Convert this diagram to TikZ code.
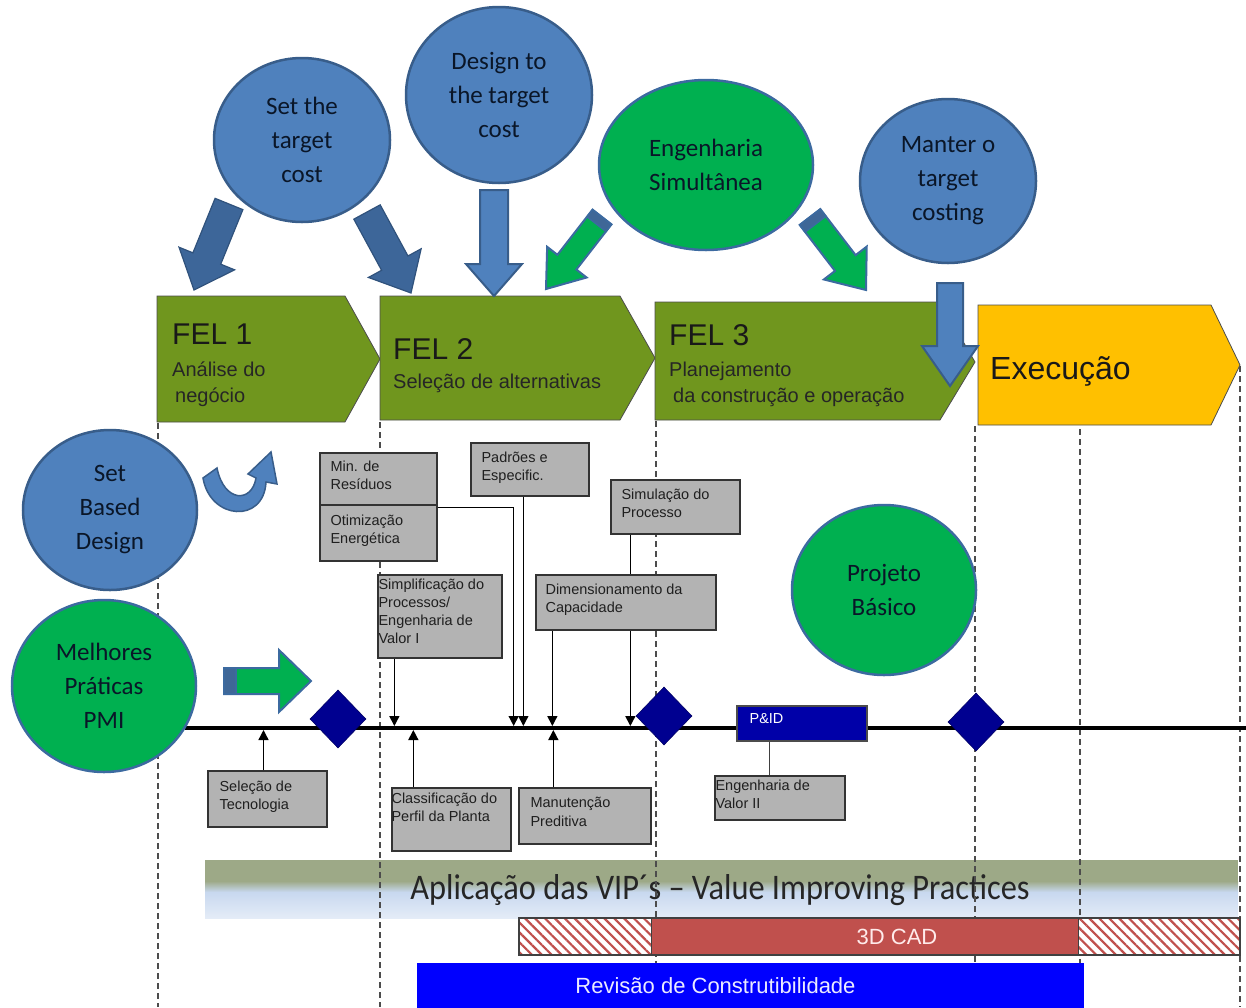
\documentclass[tikz,border=0pt]{standalone}
\usepackage{fontspec}
\usepackage{graphicx}
\setmainfont{Liberation Sans}
\newfontfamily\calfont{Carlito}
\usetikzlibrary{arrows.meta,calc,patterns.meta,shapes.geometric}

\definecolor{cblue}{HTML}{4F81BD}
\definecolor{cblueedge}{HTML}{385D8A}
\definecolor{cgreen}{HTML}{00B050}
\definecolor{gedge}{HTML}{3C6AA0}
\definecolor{darkarrow}{HTML}{3D6699}
\definecolor{darkarrowedge}{HTML}{30527C}
\definecolor{felgreen}{HTML}{70961E}
\definecolor{exyellow}{HTML}{FFC000}
\definecolor{gbfill}{HTML}{B3B3B3}
\definecolor{navyd}{HTML}{000090}
\definecolor{pidblue}{HTML}{0000A8}
\definecolor{cadred}{HTML}{C0504D}
\definecolor{revblue}{HTML}{0000FF}
\definecolor{vipolive}{HTML}{9DA987}
\definecolor{viplight}{HTML}{C8D8EF}
\definecolor{vippale}{HTML}{E4ECF7}
\definecolor{circtext}{HTML}{0A1628}

% block arrow: style, start, end, body half width, head half width, head length
\newcommand\blockarr[6]{%
  \coordinate (ba-h) at ($(#3)!#6!(#2)$);
  \path[#1] ($(#2)!#4!90:(#3)$) -- ($(ba-h)!#4!90:(#3)$) -- ($(ba-h)!#5!90:(#3)$)
    -- (#3) -- ($(ba-h)!#5!-90:(#3)$) -- ($(ba-h)!#4!-90:(#3)$)
    -- ($(#2)!#4!-90:(#3)$) -- cycle;}
% shaded tail band of a block arrow: start, end, half width, length
\newcommand\arrcap[4]{%
  \coordinate (cap-e) at ($(#1)!#4!(#2)$);
  \path[fill=cblue!80!black, draw=gedge, line width=1.5pt]
    ($(#1)!#3!90:(#2)$) -- ($(cap-e)!#3!90:(#2)$)
    -- ($(cap-e)!#3!-90:(#2)$) -- ($(#1)!#3!-90:(#2)$) -- cycle;}

\begin{document}
\begin{tikzpicture}[x=1pt,y=-1pt,
  circ/.style={ellipse, draw=cblueedge, line width=2.5pt, text=circtext,
    font=\calfont\fontsize{25}{34}\selectfont, align=center, inner sep=0pt},
  bluec/.style={circ, fill=cblue},
  greenc/.style={circ, fill=cgreen, draw=gedge},
  chev/.style={draw=black!70, line width=0.8pt},
  feltitle/.style={anchor=base west, inner sep=0pt, font=\fontsize{30}{34}\selectfont, text=black!90},
  felsub/.style={anchor=base west, inner sep=0pt, font=\fontsize{20}{26}\selectfont, text=black!85},
  gbox/.style={draw=black!80, line width=1.3pt, fill=gbfill, inner sep=0pt},
  gtext/.style={anchor=north west, inner sep=0pt, align=left,
    font=\fontsize{14.5}{18.3}\selectfont, text=black!88},
  dline/.style={draw=black!70, line width=1.3pt, dash pattern=on 6pt off 4pt},
  conn/.style={draw=black, line width=1.4pt, -{Triangle[length=10pt,width=10pt]}, shorten >=2pt},
  plain/.style={draw=black!75, line width=1.3pt},
  diam/.style={diamond, fill=navyd, draw=navyd!70!black, line width=0.6pt,
    minimum width=56pt, minimum height=58pt, inner sep=0pt},
  bluearrow/.style={fill=cblue, draw=cblueedge, line width=2pt},
  darkarrowst/.style={fill=darkarrow, draw=darkarrowedge, line width=1.2pt},
  greenarrow/.style={fill=cgreen, draw=gedge, line width=2pt}
]
\useasboundingbox (0,0) rectangle (1246,1007);

% ---------- VIP band ----------
\fill[vipolive] (205,860) rectangle (1238,881);
\shade[top color=vipolive, bottom color=viplight] (205,881) rectangle (1238,892);
\shade[top color=viplight, bottom color=vippale] (205,892) rectangle (1238,918);
\node[inner sep=0pt, text=black!85, font=\calfont\fontsize{36}{40}\selectfont] (vip) at (720,890)
  {\scalebox{0.9}[1]{Aplicação das VIP´s – Value Improving Practices}};

% ---------- phase boundaries ----------
\coordinate (v1t) at (158,423);  \coordinate (v1b) at (158,1007);
\coordinate (v2t) at (380,422);  \coordinate (v2b) at (380,1007);
\coordinate (v3t) at (656,421);  \coordinate (v3b) at (656,1007);
\coordinate (v4t) at (975,426);  \coordinate (v4b) at (975,1007);
\coordinate (v5t) at (1080,429); \coordinate (v5b) at (1080,1007);
\coordinate (v6t) at (1240,366); \coordinate (v6b) at (1240,1007);
\foreach \i in {1,...,6} { \draw[dline] (v\i t) -- (v\i b); }

% ---------- timeline ----------
\coordinate (tlL) at (185,728);
\coordinate (tlR) at (1246,728);
\coordinate (tl) at (0,728);
\draw[line width=4pt, black] (tlL) -- (tlR);

% ---------- practice boxes ----------
\node[gbox, minimum width=117pt, minimum height=52pt] (minres) at (378.5,479) {};
\node[gbox, minimum width=117pt, minimum height=56pt] (otim) at (378.5,533) {};
\node[gbox, minimum width=118pt, minimum height=53pt] (padr) at (530,469.5) {};
\node[gbox, minimum width=129pt, minimum height=54pt] (simu) at (675.5,507) {};
\node[gbox, minimum width=124pt, minimum height=83pt] (simp) at (440,616.5) {};
\node[gbox, minimum width=180pt, minimum height=55pt] (dime) at (626,602.5) {};
\node[gbox, minimum width=119pt, minimum height=56pt] (sele) at (267.5,799) {};
\node[gbox, minimum width=119pt, minimum height=63pt] (clas) at (451.5,819.5) {};
\node[gbox, minimum width=132pt, minimum height=56pt] (manu) at (585,816) {};
\node[gbox, minimum width=130pt, minimum height=44pt] (engv) at (780,798) {};

% ---------- connectors to the timeline ----------
\draw[conn] ($(simu.south west)+(20,0)$) coordinate (k8) -- (k8 |- tl);
\draw[conn] ($(sele.north)+(-4,0)$) coordinate (k1) -- (k1 |- tl);
\draw[conn] ($(simp.south west)+(17,0)$) coordinate (k2) -- (k2 |- tl);
\draw[conn] ($(clas.north west)+(22,0)$) coordinate (k3) -- (k3 |- tl);
\draw[conn] ($(minres.south east)+(0,2)$) -- ++(76,0) coordinate (k4) -- (k4 |- tl);
\draw[conn] ($(padr.south west)+(53,0)$) coordinate (k5) -- (k5 |- tl);
\draw[conn] ($(dime.south west)+(17,0)$) coordinate (k6) -- (k6 |- tl);
\draw[conn] ($(manu.north west)+(35,0)$) coordinate (k7) -- (k7 |- tl);

% redraw the box crossed by the Simulação connector
\node[gbox, minimum width=180pt, minimum height=55pt] at (dime) {};

% ---------- box texts ----------
\node[gtext] at ($(minres.north west)+(11,8)$) {Min. de\\Resíduos};
\node[gtext] at ($(otim.north west)+(11,10)$) {Otimização\\Energética};
\node[gtext] at ($(padr.north west)+(11,9)$) {Padrões e\\Especific.};
\node[gtext] at ($(simu.north west)+(11,9)$) {Simulação do\\Processo};
\node[gtext] at ($(simp.north west)+(1,4)$) {Simplificação do\\Processos/\\Engenharia de\\Valor I};
\node[gtext] at ($(dime.north west)+(10,9)$) {Dimensionamento da\\Capacidade};
\node[gtext] at ($(sele.north west)+(12,10)$) {Seleção de\\Tecnologia};
\node[gtext] at ($(clas.north west)+(0,5)$) {Classificação do\\Perfil da Planta};
\node[gtext] at ($(manu.north west)+(12,10)$) {Manutenção\\Preditiva};
\node[gtext] at ($(engv.north west)+(1,4)$) {Engenharia de\\Valor II};

% ---------- milestones ----------
\node[diam] (m1) at (338,719) {};
\node[diam] (m2) at (664,716) {};
\node[diam] (m3) at (976,722) {};

% ---------- P&ID ----------
\node[draw=black!70, line width=1.2pt, fill=pidblue, minimum width=130pt, minimum height=35pt, inner sep=0pt] (pid) at (802,723.5) {};
\node[gtext, text=white] at ($(pid.north west)+(13,8)$) {P\&ID};
\draw[plain] ($(pid.south west)+(33,0)$) coordinate (k9) -- (k9 |- engv.north);

% ---------- phase chevrons ----------
\path[chev, fill=felgreen] (157,296) -- (345,296) -- (380,359) -- (345,422) -- (157,422) -- cycle;
\path[chev, fill=felgreen] (380,296) -- (620,296) -- (655,358) -- (620,420) -- (380,420) -- cycle;
\path[chev, fill=felgreen] (655,302) -- (940,302) -- (975,362) -- (940,420) -- (655,420) -- cycle;
\path[chev, fill=exyellow] (978,305) -- (1211,305) -- (1240,365) -- (1211,425) -- (978,425) -- cycle;

\node[feltitle] (fel1) at (172,344) {FEL 1};
\node[felsub] at (172,376) {Análise do};
\node[felsub] at (175,402) {negócio};
\node[feltitle] (fel2) at (393,359) {FEL 2};
\node[felsub] at (393,388) {Seleção de alternativas};
\node[feltitle] (fel3) at (669,345) {FEL 3};
\node[felsub] at (669,376) {Planejamento};
\node[felsub] at (673,402) {da construção e operação};
\node[anchor=base west, inner sep=0pt, font=\fontsize{32}{36}\selectfont, text=black!90] (exe) at (990,379) {Execução};

% ---------- concept circles ----------
\node[bluec, minimum width=176pt, minimum height=164pt] (stc) at (302,140) {Set the\\target\\cost};
\node[bluec, minimum width=186pt, minimum height=176pt] (dtc) at (499,95) {Design to\\the target\\cost};
\node[greenc, minimum width=214pt, minimum height=170pt] (eng) at (706,165) {Engenharia\\Simultânea};
\node[bluec, minimum width=176pt, minimum height=164pt] (mtc) at (948,181) {Manter o\\target\\costing};
\node[bluec, minimum width=174pt, minimum height=160pt] (sbd) at (110,510) {Set\\Based\\Design};
\node[greenc, minimum width=184pt, minimum height=172pt] (pmi) at (104,686) {Melhores\\Práticas\\PMI};
\node[greenc, minimum width=184pt, minimum height=170pt] (pb) at (884,590) {Projeto\\Básico};

% ---------- block arrows ----------
\coordinate (a1s) at (229,204); \coordinate (a1e) at (194,290);
\blockarr{darkarrowst}{a1s}{a1e}{15pt}{30pt}{34pt}
\coordinate (a2s) at (367,212); \coordinate (a2e) at (411,293);
\blockarr{darkarrowst}{a2s}{a2e}{15pt}{30pt}{34pt}
\coordinate (a3s) at (494,190); \coordinate (a3e) at (494,296);
\blockarr{bluearrow}{a3s}{a3e}{14pt}{28pt}{32pt}
\coordinate (a4s) at (602,217); \coordinate (a4e) at (546,289);
\blockarr{greenarrow}{a4s}{a4e}{12pt}{25pt}{34pt}
\arrcap{a4s}{a4e}{12pt}{9pt}
\coordinate (a5s) at (810,217); \coordinate (a5e) at (866,290);
\blockarr{greenarrow}{a5s}{a5e}{13pt}{27pt}{34pt}
\arrcap{a5s}{a5e}{13pt}{9pt}
\coordinate (a6s) at (950,283); \coordinate (a6e) at (950,386);
\blockarr{bluearrow}{a6s}{a6e}{13pt}{28pt}{40pt}
\coordinate (a7s) at (224,681); \coordinate (a7e) at (311,681);
\blockarr{greenarrow}{a7s}{a7e}{13pt}{31pt}{32pt}
\arrcap{a7s}{a7e}{13pt}{12pt}

% ---------- turn-back arrow beside Set Based Design ----------
\path[fill=cblue, draw=cblueedge, line width=1.5pt]
  (203,478) .. controls (210,520) and (264,524) .. (266,482)
  -- (277,484) -- (271,452) -- (248,474) -- (256,478)
  .. controls (252,503) and (224,503) .. (217,468) -- cycle;

% ---------- 3D CAD bar ----------
\path[fill=white] (519,918) rectangle (652,955);
\path[pattern={Lines[angle=-45, distance=7pt, line width=2.2pt]}, pattern color=cadred]
  (519,918) rectangle (652,955);
\path[fill=white] (1078,918) rectangle (1240,955);
\path[pattern={Lines[angle=-45, distance=7pt, line width=2.2pt]}, pattern color=cadred]
  (1078,918) rectangle (1240,955);
\node[fill=cadred, minimum width=426pt, minimum height=37pt, inner sep=0pt,
  text=red!8, font=\fontsize{22}{24}\selectfont] (cad) at (865,936.5) {\hspace*{64pt}3D CAD};
\draw[black!75, line width=1.2pt] (519,918) rectangle (1240,955);
\draw[black!75, line width=1.2pt] (cad.north west) -- (cad.south west) (cad.north east) -- (cad.south east);

% ---------- constructability review ----------
\node[fill=revblue, minimum width=667pt, minimum height=46pt, inner sep=0pt,
  text=blue!8, font=\fontsize{22}{24}\selectfont] (rev) at (750.5,986) {\raisebox{-9pt}{\hspace*{-70pt}Revisão de Construtibilidade}};
\end{tikzpicture}
\end{document}
